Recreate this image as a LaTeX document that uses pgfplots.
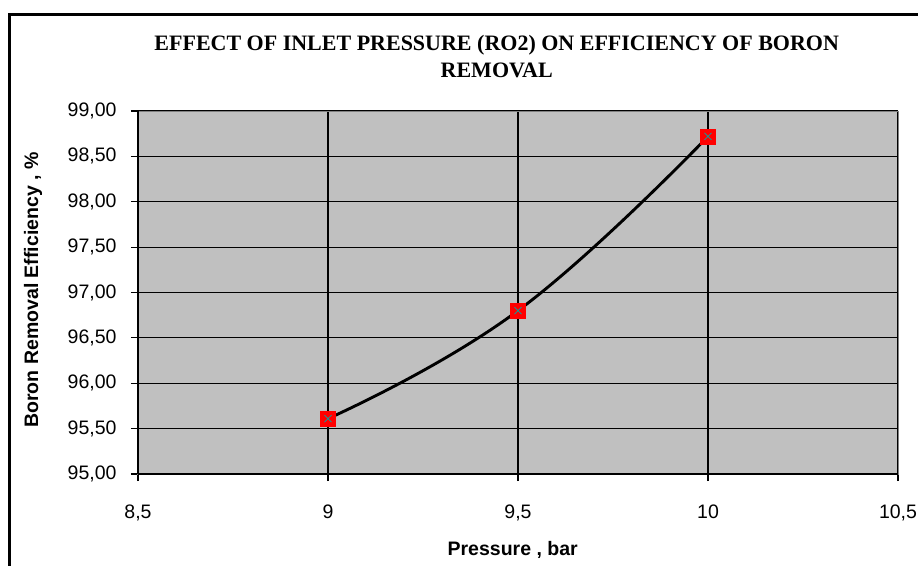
\documentclass[border=0pt]{standalone}
\usepackage{fontspec}
\setmainfont{Liberation Sans}
\newfontfamily\titlefont{Liberation Serif}
\usepackage{pgfplots}
\pgfplotsset{compat=1.18}
\definecolor{plotgray}{HTML}{C0C0C0}
\definecolor{framegray}{HTML}{808080}
\begin{document}
\begin{tikzpicture}[x=1bp,y=1bp]
\begin{axis}[
  scale only axis,
  width=760bp, height=363bp,
  xmin=8.5, xmax=10.5, ymin=95, ymax=99,
  xtick={8.5,9,9.5,10,10.5},
  ytick={95,95.5,96,96.5,97,97.5,98,98.5,99},
  axis background/.style={fill=plotgray},
  grid=major,
  major grid style={black, line width=1.2bp},
  axis line style={framegray, line width=1bp},
  tick align=outside,
  xtick pos=bottom, ytick pos=left,
  major tick length=7bp,
  tick style={black, line width=1.2bp},
  /pgf/number format/assume math mode=true,
  ticklabel style={font=\fontsize{19.5bp}{22bp}\selectfont},
  yticklabel style={xshift=-11bp, /pgf/number format/.cd, fixed, fixed zerofill, precision=2, use comma},
  xticklabel style={yshift=-20bp, /pgf/number format/.cd, fixed, precision=1, use comma},
  title={EFFECT OF INLET PRESSURE (RO2) ON EFFICIENCY OF BORON\\REMOVAL},
  title style={font=\titlefont\bfseries\fontsize{22bp}{27bp}\selectfont, align=center,
    at={(axis description cs:0.472,1.134)}, anchor=center},
  xlabel={Pressure , bar},
  ylabel={Boron Removal Efficiency , \%},
  label style={font=\bfseries\fontsize{19.5bp}{22bp}\selectfont},
  xlabel style={at={(axis description cs:0.493,-0.209)}, anchor=center},
  ylabel style={at={(axis description cs:-0.138,0.507)}, anchor=center, rotate=0},
  clip=false,
]
\addplot[black, line width=2.9bp, smooth, tension=0.75,
  mark=square*, mark size=7.5bp,
  mark options={fill=red, draw=red, line width=0.5bp}]
  coordinates {(9,95.61) (9.5,96.80) (10,98.72)};
\addplot[only marks, mark=x, mark size=5bp, mark options={teal!70!cyan, line width=0.8bp}]
  coordinates {(9,95.61) (9.5,96.80) (10,98.72)};
\draw[black, line width=1.2bp] (axis cs:8.5,95) -- (axis cs:10.5,95);
\draw[black, line width=1.2bp] (axis cs:8.5,95) -- (axis cs:8.5,99);
\coordinate (SW) at (rel axis cs:0,0);
\end{axis}
\draw[black, line width=3bp] ([shift={(-128bp,-100bp)}]SW) -- ([shift={(-128bp,459bp)}]SW) -- ([shift={(800bp,459bp)}]SW);
\pgfresetboundingbox
\useasboundingbox ([shift={(-138bp,-92bp)}]SW) rectangle ([shift={(780bp,474bp)}]SW);
\end{tikzpicture}
\end{document}
